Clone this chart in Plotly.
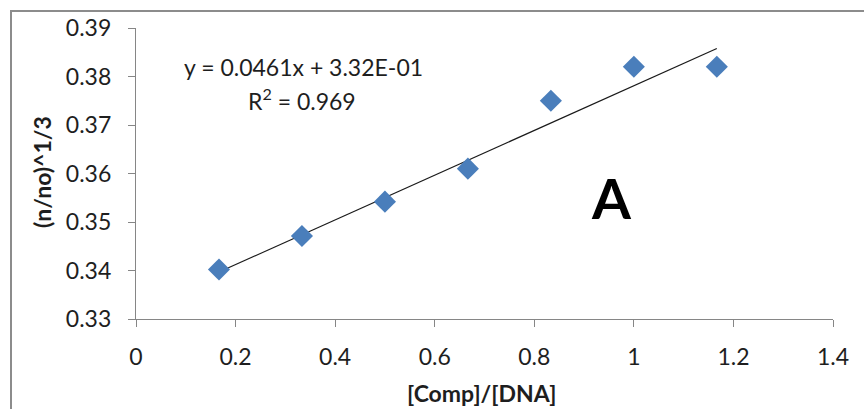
import plotly.graph_objects as go

# Data
x_vals = [1/6, 2/6, 3/6, 4/6, 5/6, 6/6, 7/6]
y_vals = [0.3402, 0.3471, 0.3542, 0.3610, 0.3750, 0.3820, 0.3820]
slope = 0.0461
intercept = 0.332
eq_text = "y = 0.0461x + 3.32E-01"
r2_text = "R<sup>2</sup> = 0.969"
x_ticks = [0, 0.2, 0.4, 0.6, 0.8, 1, 1.2, 1.4]
x_ticklabels = ["0", "0.2", "0.4", "0.6", "0.8", "1", "1.2", "1.4"]
y_ticks = [0.33, 0.34, 0.35, 0.36, 0.37, 0.38, 0.39]
y_ticklabels = ["0.33", "0.34", "0.35", "0.36", "0.37", "0.38", "0.39"]
x_title = "<b>[Comp]/[DNA]</b>"
y_title = "<b>(n/no)^1/3</b>"

FONT = "Lato"
AX = "#868686"
TXT = "#1e1e1e"

L, R, T, B = 136, 31, 28, 90
W, H = 864, 409
PW, PH = W - L - R, H - T - B


def px(xp):
    return (xp - L) / PW


def py(yp):
    return (H - B - yp) / PH


trend_x = [min(x_vals), max(x_vals)]
trend_y = [slope * v + intercept for v in trend_x]

fig = go.Figure()
fig.add_trace(go.Scatter(x=trend_x, y=trend_y, mode="lines",
                         line=dict(color="#1a1a1a", width=1.2), showlegend=False, hoverinfo="skip"))
fig.add_trace(go.Scatter(x=x_vals, y=y_vals, mode="markers",
                         marker=dict(symbol="diamond", size=17, color="#4A7EBB",
                                     line=dict(width=0)), showlegend=False))

fig.update_layout(
    width=W, height=H,
    margin=dict(l=L, r=R, t=T, b=B, autoexpand=False),
    paper_bgcolor="white", plot_bgcolor="white",
    font=dict(family=FONT, size=23, color=TXT),
    xaxis=dict(range=[0, 1.4], tickvals=x_ticks, ticktext=x_ticklabels,
               showgrid=False, zeroline=False, showline=True, linecolor=AX, linewidth=1.3,
               ticks="outside", ticklen=7, tickcolor=AX, tickwidth=1.3,
               ticklabelstandoff=10, automargin=False),
    yaxis=dict(range=[0.33, 0.39], tickvals=y_ticks, ticktext=y_ticklabels,
               showgrid=False, zeroline=False, showline=True, linecolor=AX, linewidth=1.3,
               ticks="outside", ticklen=7, tickcolor=AX, tickwidth=1.3,
               ticklabelstandoff=12, automargin=False),
)


def note(x, y, text, size=23, color=TXT, **kw):
    fig.add_annotation(x=px(x), y=py(y), xref="paper", yref="paper", text=text,
                       xanchor="center", yanchor="middle", showarrow=False,
                       font=dict(family=FONT, size=size, color=color), **kw)


note(482, 393, x_title)
note(42, 172, y_title, textangle=-90)
note(303, 67, eq_text)
note(302, 99, r2_text)
note(611, 198, "<b>A</b>", size=56, color="#000")

# chart frame (partly cropped in the original)
fig.add_shape(type="path", xref="paper", yref="paper",
              path="M %f %f L %f %f L %f %f" % (px(11), py(430), px(11), py(11), px(880), py(11)),
              line=dict(color="#8c8c8c", width=2))

fig.write_html("out.html", config={"displayModeBar": False},
               post_script="document.body.style.margin='0';")
